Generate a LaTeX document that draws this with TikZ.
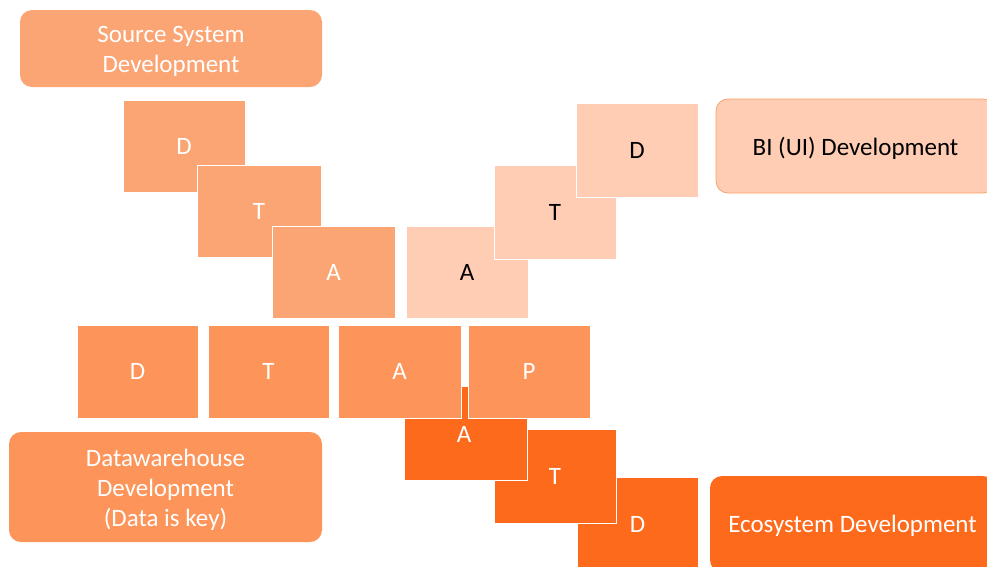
\documentclass[tikz,border=0pt]{standalone}
\usepackage{fontspec}
\setmainfont{Carlito}
\definecolor{salmon}{HTML}{FBA574}
\definecolor{pale}{HTML}{FFCDB4}
\definecolor{mid}{HTML}{FD945A}
\definecolor{deep}{HTML}{FD6A1C}
\definecolor{paleedge}{HTML}{F8A36A}
\begin{document}
\begin{tikzpicture}[x=1pt,y=-1pt,
  tile/.style={rectangle, draw=white, line width=0.8pt, inner sep=0pt,
    minimum width=122pt, minimum height=92pt,
    font=\fontsize{25}{30}\selectfont},
  panel/.style={rectangle, rounded corners=12pt, inner sep=0pt},
  caption/.style={inner sep=0pt, align=center, font=\fontsize{25}{30}\selectfont},
  lighttext/.style={text=white},
  darktext/.style={text=black}]
\clip (0,0) rectangle (987,566);
\fill[white] (0,0) rectangle (987,566);

% source system branch
\node[panel, fill=salmon, minimum width=302pt, minimum height=77pt] (src) at (171,48.5) {};
\node[caption, lighttext] (srct) at ([yshift=-2.5pt]src.center) {Source System\\Development};
\node[tile, fill=salmon, lighttext] (sD) at (184,146) {D};
\node[tile, fill=salmon, lighttext, minimum width=124pt] (sT) at (259,211) {T};
\node[tile, fill=salmon, lighttext, minimum width=123pt] (sA) at (333.5,272) {A};

% BI branch
\node[tile, fill=pale, darktext] (bA) at (467,272) {A};
\node[tile, fill=pale, darktext, minimum height=94pt] (bT) at (555,212) {T};
\node[tile, fill=pale, darktext, minimum height=94pt] (bD) at (637,150) {D};
\node[panel, fill=pale, draw=paleedge, line width=0.8pt, minimum width=279pt, minimum height=94pt] (bi) at (855.5,146) {};
\node[caption, darktext] (bit) at ([yshift=-2pt]bi.center) {BI (UI) Development};

% ecosystem branch (drawn first so the row covers it)
\node[tile, fill=deep, lighttext, minimum width=121pt, minimum height=94pt] (eD) at (637.5,524) {D};
\node[tile, fill=deep, lighttext, minimum height=94pt] (eT) at (555,476) {T};
\node[tile, fill=deep, lighttext, minimum width=123pt, minimum height=94pt] (eA) at (465.5,433) {};
\node[caption, lighttext] (eAl) at (464,434) {A};
\node[panel, fill=deep, minimum width=285pt, minimum height=96pt] (eco) at (852.5,524) {};
\node[caption, lighttext] (ecot) at ([yshift=-2pt]eco.center) {Ecosystem Development};

% datawarehouse row
\node[tile, fill=mid, lighttext, minimum width=121pt, minimum height=93pt] (wD) at (137.5,371.5) {D};
\node[tile, fill=mid, lighttext, minimum width=121pt, minimum height=93pt] (wT) at (268.5,371.5) {T};
\node[tile, fill=mid, lighttext, minimum width=123pt, minimum height=93pt] (wA) at (399.5,371.5) {A};
\node[tile, fill=mid, lighttext, minimum width=122pt, minimum height=93pt] (wP) at (529,371.5) {P};
\node[panel, fill=mid, minimum width=313pt, minimum height=110pt] (dwh) at (165.5,487) {};
\node[caption, lighttext] (dwht) at ([yshift=-3pt]dwh.center) {Datawarehouse\\Development\\(Data is key)};
\end{tikzpicture}
\end{document}
